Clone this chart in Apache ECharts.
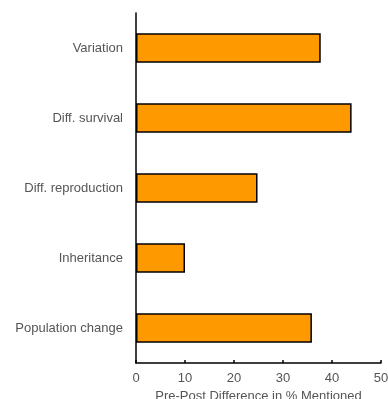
<!DOCTYPE html>
<html>
<head>
<meta charset="utf-8">
<script src="https://cdn.jsdelivr.net/npm/echarts@6/dist/echarts.min.js"></script>
<style>
html,body{margin:0;padding:0;background:#fff;}
#chart{width:388px;height:399px;}
</style>
</head>
<body>
<div id="chart"></div>
<script>
var categories = ["Variation", "Diff. survival", "Diff. reproduction", "Inheritance", "Population change"];
var values = [37.7, 44.0, 24.8, 10, 35.9];
var xTicks = [0, 10, 20, 30, 40, 50];
var xAxisTitle = "Pre-Post Difference in % Mentioned";

var chart = echarts.init(document.getElementById('chart'), null, {renderer: 'canvas'});
chart.setOption({
  animation: false,
  backgroundColor: '#ffffff',
  grid: {left: 136, right: 7, top: 13, bottom: 36, containLabel: false, outerBoundsMode: 'none'},
  xAxis: {
    type: 'value',
    min: xTicks[0],
    max: xTicks[xTicks.length - 1],
    interval: 10,
    splitLine: {show: false},
    axisLine: {show: true, lineStyle: {color: '#000', width: 1.5}},
    axisTick: {show: true, inside: true, length: 3, lineStyle: {color: '#000', width: 1.5}},
    axisLabel: {color: '#555', fontFamily: 'Liberation Sans', fontSize: 13, margin: 9},
    name: xAxisTitle,
    nameLocation: 'middle',
    nameGap: 24,
    nameTextStyle: {color: '#555', fontFamily: 'Liberation Sans', fontSize: 13}
  },
  yAxis: {
    type: 'category',
    data: categories,
    inverse: true,
    axisLine: {show: true, lineStyle: {color: '#000', width: 1.5}},
    axisTick: {show: false},
    axisLabel: {color: '#555', fontFamily: 'Liberation Sans', fontSize: 13, margin: 13}
  },
  series: [{
    type: 'bar',
    data: values,
    barWidth: '42%',
    itemStyle: {color: '#FF9900', borderColor: '#000', borderWidth: 1.5}
  }]
});
</script>
</body>
</html>
